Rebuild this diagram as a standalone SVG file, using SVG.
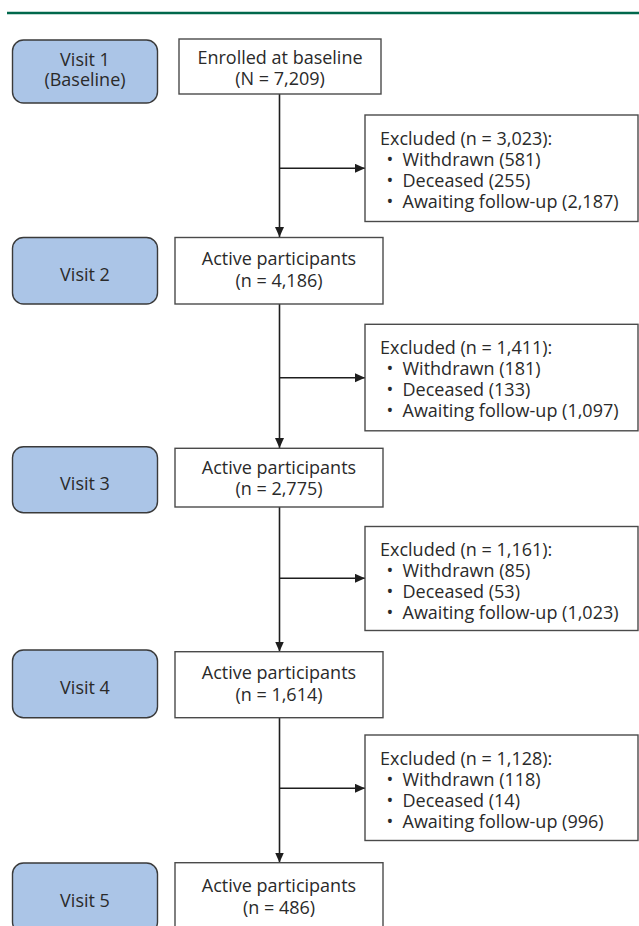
<svg xmlns="http://www.w3.org/2000/svg" width="639" height="926" viewBox="0 0 639 926">
<style>
  text { font-family: "Open Sans", "Noto Sans", "Liberation Sans", sans-serif; font-size: 18px; fill: #2a2a2a; }
  .c { text-anchor: middle; }
  .visit { fill: #abc5e7; stroke: #3a3a3a; stroke-width: 1.4; }
  .box { fill: #ffffff; stroke: #4a4a4a; stroke-width: 1.4; }
  .conn { fill: none; stroke: #1e1e1e; stroke-width: 1.6; }
</style>
<defs>
  <marker id="arr" markerUnits="userSpaceOnUse" markerWidth="11" markerHeight="10" refX="10" refY="4.5" orient="auto">
    <path d="M0,0 L10,4.5 L0,9 z" fill="#1e1e1e"/>
  </marker>
</defs>
<rect x="0" y="0" width="639" height="926" fill="#ffffff"/>
<line x1="7" y1="13" x2="639" y2="13" stroke="#00684c" stroke-width="2.6"/>

<g id="connectors">
  <line class="conn" x1="279.5" y1="94" x2="279.5" y2="237" marker-end="url(#arr)"/>
  <line class="conn" x1="279.5" y1="168.3" x2="365" y2="168.3" marker-end="url(#arr)"/>
  <line class="conn" x1="279.5" y1="304" x2="279.5" y2="448" marker-end="url(#arr)"/>
  <line class="conn" x1="279.5" y1="377.7" x2="365" y2="377.7" marker-end="url(#arr)"/>
  <line class="conn" x1="279.5" y1="507" x2="279.5" y2="651.5" marker-end="url(#arr)"/>
  <line class="conn" x1="279.5" y1="578.3" x2="365" y2="578.3" marker-end="url(#arr)"/>
  <line class="conn" x1="279.5" y1="718" x2="279.5" y2="862.5" marker-end="url(#arr)"/>
  <line class="conn" x1="279.5" y1="788.3" x2="365" y2="788.3" marker-end="url(#arr)"/>
</g>

<g id="visit1">
  <rect class="visit" x="12.5" y="40" width="145" height="63" rx="11"/>
  <text class="c" x="85" y="65.5">Visit 1</text>
  <text class="c" x="85" y="86">(Baseline)</text>
</g>
<g id="enrolled">
  <rect class="box" x="179" y="39" width="202" height="55"/>
  <text class="c" x="280" y="64">Enrolled at baseline</text>
  <text class="c" x="280" y="85">(N = 7,209)</text>
</g>
<g id="excluded1">
  <rect class="box" x="365" y="115" width="273" height="106.5"/>
  <text x="380" y="144.5">Excluded (n = 3,023):</text>
  <text y="165.5"><tspan x="386.5">•</tspan><tspan x="402.5">Withdrawn (581)</tspan></text>
  <text y="186.5"><tspan x="386.5">•</tspan><tspan x="402.5">Deceased (255)</tspan></text>
  <text y="207.5"><tspan x="386.5">•</tspan><tspan x="402.5">Awaiting follow-up (2,187)</tspan></text>
</g>

<g id="visit2">
  <rect class="visit" x="12.5" y="237.5" width="145" height="66.5" rx="11"/>
  <text class="c" x="85" y="280.5">Visit 2</text>
</g>
<g id="active2">
  <rect class="box" x="175" y="237.5" width="208" height="66.5"/>
  <text class="c" x="279" y="265">Active participants</text>
  <text class="c" x="279" y="286.5">(n = 4,186)</text>
</g>
<g id="excluded2">
  <rect class="box" x="365" y="324.3" width="273" height="106.5"/>
  <text x="380" y="354">Excluded (n = 1,411):</text>
  <text y="375"><tspan x="386.5">•</tspan><tspan x="402.5">Withdrawn (181)</tspan></text>
  <text y="396"><tspan x="386.5">•</tspan><tspan x="402.5">Deceased (133)</tspan></text>
  <text y="417"><tspan x="386.5">•</tspan><tspan x="402.5">Awaiting follow-up (1,097)</tspan></text>
</g>

<g id="visit3">
  <rect class="visit" x="12.5" y="446.7" width="145" height="66" rx="11"/>
  <text class="c" x="85" y="490">Visit 3</text>
</g>
<g id="active3">
  <rect class="box" x="175" y="448.3" width="208" height="58.7"/>
  <text class="c" x="279" y="473.5">Active participants</text>
  <text class="c" x="279" y="495">(n = 2,775)</text>
</g>
<g id="excluded3">
  <rect class="box" x="365" y="526.5" width="273" height="104"/>
  <text x="380" y="556">Excluded (n = 1,161):</text>
  <text y="577"><tspan x="386.5">•</tspan><tspan x="402.5">Withdrawn (85)</tspan></text>
  <text y="598"><tspan x="386.5">•</tspan><tspan x="402.5">Deceased (53)</tspan></text>
  <text y="619"><tspan x="386.5">•</tspan><tspan x="402.5">Awaiting follow-up (1,023)</tspan></text>
</g>

<g id="visit4">
  <rect class="visit" x="12.5" y="650" width="145" height="67.7" rx="11"/>
  <text class="c" x="85" y="694">Visit 4</text>
</g>
<g id="active4">
  <rect class="box" x="175" y="651.7" width="208" height="66"/>
  <text class="c" x="279" y="679.3">Active participants</text>
  <text class="c" x="279" y="700.8">(n = 1,614)</text>
</g>
<g id="excluded4">
  <rect class="box" x="365" y="735" width="273" height="105.5"/>
  <text x="380" y="764.5">Excluded (n = 1,128):</text>
  <text y="785.5"><tspan x="386.5">•</tspan><tspan x="402.5">Withdrawn (118)</tspan></text>
  <text y="806.5"><tspan x="386.5">•</tspan><tspan x="402.5">Deceased (14)</tspan></text>
  <text y="827.5"><tspan x="386.5">•</tspan><tspan x="402.5">Awaiting follow-up (996)</tspan></text>
</g>

<g id="visit5">
  <rect class="visit" x="12.5" y="863" width="145" height="70" rx="11"/>
  <text class="c" x="85" y="906.5">Visit 5</text>
</g>
<g id="active5">
  <rect class="box" x="175" y="862.7" width="208" height="75"/>
  <text class="c" x="279" y="892">Active participants</text>
  <text class="c" x="279" y="913.5">(n = 486)</text>
</g>
</svg>
